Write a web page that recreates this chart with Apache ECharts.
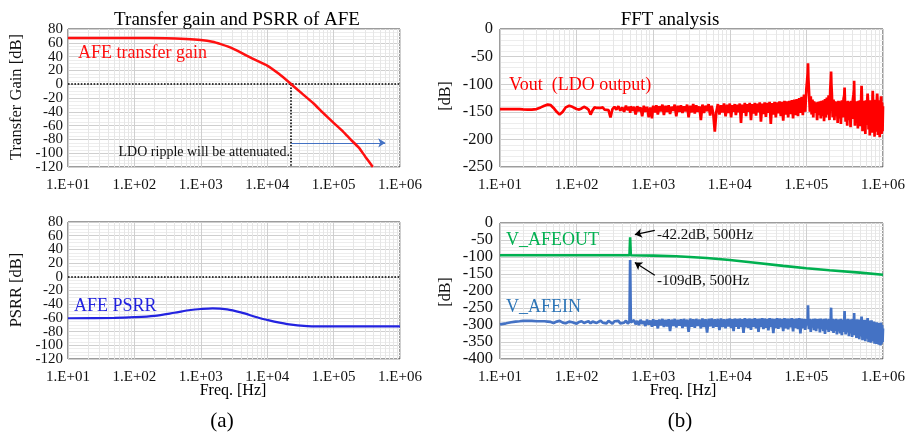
<!DOCTYPE html>
<html>
<head>
<meta charset="utf-8">
<script src="https://cdn.jsdelivr.net/npm/echarts@6/dist/echarts.min.js"></script>
<style>
  html, body { margin: 0; padding: 0; background: #fff; }
  #chart { width: 909px; height: 434px; }
</style>
</head>
<body>
<div id="chart"></div>
<script>
// (a) AFE transfer gain and PSRR, [Hz, dB]
var gainPts = [[10, 67], [100, 67], [300, 66.6], [600, 65.5], [1000, 64], [1500, 61.5], [2000, 58],
  [3000, 52], [5000, 41], [7000, 34], [10000, 27], [15000, 15], [23000, 0], [33000, -13], [50000, -28],
  [70000, -42], [100000, -56], [140000, -69], [180000, -80], [240000, -92], [300000, -105], [390000, -120]];
var psrrPts = [[10, -60.5], [50, -60], [100, -59], [200, -57], [400, -52.5], [700, -48.5], [1000, -47],
  [1500, -46], [2500, -47.5], [4000, -52], [7000, -59], [10000, -63], [20000, -69], [40000, -72],
  [100000, -72.5], [1000000, -72.5]];

// (b) FFT bins shared by Vout and V_AFEIN
var fftFreq = [
  10, 12, 14, 16, 18, 20, 23, 26, 30, 34,
  38, 42, 46, 50, 55, 60, 66, 72, 80, 88,
  100, 108, 116, 125, 134, 143, 152, 162, 172, 183,
  194, 206, 219, 232, 246, 261, 277, 294, 312, 331,
  351, 372, 394, 417, 441, 466, 490, 500, 510, 535,
  562, 590, 620, 651, 684, 718, 754, 792, 832, 874,
  918, 964, 1000, 1050, 1100, 1150, 1200, 1260, 1320, 1380,
  1450, 1520, 1590, 1660, 1740, 1820, 1910, 2000, 2100, 2200,
  2300, 2410, 2520, 2640, 2770, 2900, 3040, 3180, 3330, 3490,
  3650, 3820, 4000, 4190, 4390, 4600, 4820, 5050, 5290, 5540,
  5800, 6080, 6370, 6670, 6990, 7320, 7670, 8030, 8410, 8810,
  9230, 9660, 10000, 10400, 10800, 11200, 11600, 12000, 12500, 13000,
  13500, 14000, 14500, 15100, 15700, 16300, 16900, 17500, 18200, 18900,
  19600, 20400, 21200, 22000, 22800, 23700, 24600, 25500, 26500, 27500,
  28500, 29600, 30700, 31900, 33100, 34300, 35600, 37000, 38400, 39900,
  41400, 43000, 44600, 46300, 48000, 49800, 51700, 53700, 55700, 57800,
  60000, 62300, 64600, 67000, 69500, 72100, 74800, 77600, 80500, 83500,
  86600, 89800, 93100, 96500, 100000, 102000, 104000, 105000, 106000, 108000,
  111000, 114000, 117000, 120000, 123000, 126000, 130000, 134000, 138000, 142000,
  146000, 150000, 154000, 158000, 162000, 166000, 170000, 175000, 180000, 185000,
  190000, 195000, 200000, 205000, 208000, 210000, 212000, 215000, 220000, 226000,
  232000, 238000, 244000, 250000, 256000, 262000, 268000, 275000, 282000, 290000,
  298000, 306000, 312000, 315000, 318000, 325000, 333000, 341000, 350000, 359000,
  368000, 377000, 386000, 395000, 404000, 412000, 418000, 420000, 422000, 430000,
  440000, 450000, 460000, 470000, 480000, 490000, 500000, 510000, 520000, 525000,
  530000, 540000, 552000, 564000, 576000, 588000, 600000, 612000, 624000, 630000,
  636000, 648000, 660000, 672000, 684000, 696000, 708000, 720000, 730000, 735000,
  740000, 752000, 764000, 776000, 788000, 800000, 812000, 824000, 834000, 840000,
  846000, 858000, 870000, 882000, 894000, 906000, 918000, 930000, 940000, 945000,
  950000, 962000, 974000, 986000, 1000000
];
var voutDb = [
  -145, -145, -145, -145, -145, -145.5, -146, -146, -145, -142,
  -139, -137, -138, -143, -150, -155, -150, -142, -139, -141,
  -145, -146, -144, -141, -143, -146, -155, -147, -142, -143,
  -145, -143, -142, -146, -144, -147, -160, -145, -141, -146,
  -140, -148, -142, -150, -139, -147, -141, -152, -140, -148,
  -141, -155, -140, -149, -142, -158, -139, -150, -141, -160,
  -142, -162, -139, -151, -138, -155, -140, -149, -137, -156,
  -139, -150, -138, -154, -141, -148, -137, -158, -139, -150,
  -138, -152, -140, -149, -137, -160, -139, -151, -136, -153,
  -138, -150, -140, -165, -137, -152, -139, -149, -136, -157,
  -139, -153, -186, -150, -136, -155, -138, -151, -135, -158,
  -137, -152, -135, -160, -138, -150, -136, -156, -137, -151,
  -135, -170, -137, -152, -134, -158, -136, -150, -134, -165,
  -136, -153, -134, -157, -135, -151, -133, -168, -135, -154,
  -133, -159, -134, -152, -132, -172, -134, -155, -132, -160,
  -133, -153, -131, -158, -132, -166, -130, -155, -131, -160,
  -130, -154, -129, -162, -128, -156, -127, -158, -125, -152,
  -123, -156, -119, -150, -108, -95, -80, -62, -88, -112,
  -150, -122, -155, -128, -160, -131, -152, -133, -165, -132,
  -156, -131, -162, -130, -158, -129, -167, -127, -160, -124,
  -155, -120, -165, -108, -92, -77, -100, -118, -160, -128,
  -165, -131, -158, -132, -170, -130, -162, -131, -172, -129,
  -160, -126, -120, -106, -125, -168, -131, -175, -130, -165,
  -132, -178, -130, -163, -128, -118, -110, -94, -115, -175,
  -132, -170, -131, -180, -130, -172, -129, -176, -120, -103,
  -118, -185, -131, -168, -130, -190, -129, -174, -125, -117,
  -126, -182, -131, -193, -129, -175, -130, -188, -122, -112,
  -125, -178, -130, -195, -128, -180, -131, -186, -124, -117,
  -127, -192, -130, -183, -129, -196, -131, -185, -127, -122,
  -130, -190, -133, -185, -140
];
var afeinDb = [
  -298, -295, -292, -290, -289, -288, -288, -288, -289, -289,
  -289, -290, -291, -294, -290, -288, -293, -295, -290, -292,
  -296, -291, -289, -294, -291, -289, -295, -290, -288, -294,
  -290, -287, -293, -289, -295, -288, -291, -296, -289, -292,
  -288, -295, -290, -293, -287, -296, -290, -109, -292, -296,
  -286, -298, -288, -300, -285, -296, -289, -303, -284, -299,
  -287, -305, -283, -302, -286, -310, -284, -301, -282, -306,
  -285, -304, -283, -318, -284, -303, -282, -307, -285, -302,
  -283, -309, -282, -304, -284, -320, -281, -305, -283, -308,
  -282, -303, -284, -310, -281, -306, -283, -322, -282, -304,
  -281, -308, -283, -305, -282, -315, -281, -306, -283, -310,
  -282, -304, -281, -309, -283, -318, -281, -305, -282, -311,
  -281, -306, -283, -323, -280, -307, -282, -309, -281, -314,
  -282, -305, -280, -310, -282, -320, -281, -306, -280, -312,
  -281, -308, -282, -316, -280, -306, -281, -324, -282, -309,
  -280, -311, -281, -307, -282, -318, -280, -310, -281, -313,
  -281, -307, -280, -319, -282, -309, -281, -312, -280, -325,
  -281, -310, -282, -314, -283, -300, -285, -242, -295, -312,
  -282, -320, -283, -308, -282, -315, -281, -318, -283, -310,
  -282, -322, -281, -312, -283, -318, -282, -326, -281, -314,
  -283, -320, -282, -316, -285, -249, -290, -318, -282, -323,
  -283, -317, -282, -328, -284, -319, -283, -325, -282, -330,
  -284, -320, -290, -259, -292, -328, -283, -322, -282, -333,
  -284, -325, -283, -335, -282, -300, -288, -265, -295, -330,
  -284, -338, -283, -330, -285, -342, -284, -334, -288, -275,
  -292, -345, -285, -336, -286, -348, -285, -340, -290, -280,
  -293, -350, -287, -343, -288, -352, -286, -346, -290, -287,
  -295, -348, -290, -355, -292, -347, -293, -356, -292, -290,
  -297, -352, -294, -358, -296, -350, -295, -360, -293, -292,
  -298, -355, -300, -350, -310
];
var afeoutPts = [[10, -95], [100, -95], [300, -95], [490, -95], [500, -42.2], [510, -95], [1000, -96],
  [2000, -98], [3000, -100], [5000, -103], [10000, -109], [20000, -116], [50000, -126],
  [100000, -133], [200000, -139], [500000, -146], [1000000, -152]];

var minorFreqs = [20, 30, 40, 50, 60, 70, 80, 90, 200, 300, 400, 500, 600, 700, 800, 900,
  2000, 3000, 4000, 5000, 6000, 7000, 8000, 9000, 20000, 30000, 40000, 50000, 60000, 70000, 80000, 90000,
  200000, 300000, 400000, 500000, 600000, 700000, 800000, 900000];

var FONT = '"Liberation Serif", "Times New Roman", serif';
var chart = echarts.init(document.getElementById('chart'));

var grids = [
  { left: 68, top: 29, width: 332, height: 138 },
  { left: 500, top: 29, width: 383, height: 138 },
  { left: 68, top: 222, width: 332, height: 137 },
  { left: 500, top: 223, width: 383, height: 136 }
];
grids.forEach(function (g) {
  g.show = true; g.borderColor = '#3a3a3a'; g.borderWidth = 1; g.backgroundColor = '#fff';
});

function xAx(i) {
  return {
    type: 'log', logBase: 10, gridIndex: i, min: 10, max: 1000000,
    axisLine: { show: false }, axisTick: { show: false },
    axisLabel: {
      margin: 11, fontFamily: FONT, fontSize: 15, color: '#111',
      formatter: function (v) { return '1.E+' + String(Math.round(Math.log10(v))).padStart(2, '0'); }
    },
    splitLine: { show: true, lineStyle: { color: '#cfcfcf', width: 1 } }
  };
}
function yAx(i, min, max, step, fs, minorN, ends) {
  return {
    type: 'value', gridIndex: i, min: min, max: max, interval: step,
    axisLine: { show: false }, axisTick: { show: false },
    axisLabel: {
      margin: i % 2 ? 7 : 5, fontFamily: FONT, fontSize: fs, color: '#111',
      showMinLabel: ends, showMaxLabel: ends
    },
    splitLine: { show: true, lineStyle: { color: '#cfcfcf', width: 1 } },
    minorTick: { show: false, splitNumber: minorN },
    minorSplitLine: { show: true, lineStyle: { color: '#ededed', width: 1 } }
  };
}
// labels for only the two ends of the crowded left axes
function yEnds(i, min, max, fs) {
  return {
    type: 'value', gridIndex: i, min: min, max: max, interval: max - min, position: 'left',
    axisLine: { show: false }, axisTick: { show: false },
    axisLabel: { margin: 5, fontFamily: FONT, fontSize: fs, color: '#111' },
    splitLine: { show: false }
  };
}

function minorGrid(i) {
  return {
    type: 'line', xAxisIndex: i, yAxisIndex: i, data: [], z: 1, silent: true,
    markLine: {
      silent: true, symbol: 'none', animation: false, label: { show: false },
      lineStyle: { color: '#e6e6e6', type: 'solid', width: 1 },
      data: minorFreqs.map(function (f) { return { xAxis: f }; })
    }
  };
}
function arrows(i, lines, color, width) {
  return {
    type: 'line', xAxisIndex: i, yAxisIndex: i, data: [], zlevel: 1, z: 5, silent: true,
    markLine: {
      silent: true, symbol: ['none', 'arrow'], symbolSize: 7, animation: false, label: { show: false },
      lineStyle: { color: color, type: 'solid', width: width },
      data: lines.map(function (l) { return [{ coord: l[0] }, { coord: l[1] }]; })
    }
  };
}
var dotted = { color: '#000', type: 'dotted', width: 1.6 };

function txt(s, x, y, size, color, align, rot) {
  return {
    type: 'text', x: x, y: y, rotation: rot || 0, silent: true, z: 10,
    style: { text: s, fill: color || '#000', font: size + 'px ' + FONT, textAlign: align || 'center', textVerticalAlign: 'middle' }
  };
}

var option = {
  animation: false,
  backgroundColor: '#fff',
  grid: grids,
  xAxis: [xAx(0), xAx(1), xAx(2), xAx(3)],
  yAxis: [
    yAx(0, -120, 80, 20, 15, 4, false),
    yAx(1, -250, 0, 50, 16.5, 5, true),
    yAx(2, -120, 80, 20, 15, 4, false),
    yAx(3, -400, 0, 50, 16.5, 5, true),
    yEnds(0, -120, 80, 15),
    yEnds(2, -120, 80, 15)
  ],
  series: [
    minorGrid(0), minorGrid(1), minorGrid(2), minorGrid(3),
    {
      name: 'AFE transfer gain', type: 'line', xAxisIndex: 0, yAxisIndex: 0, data: gainPts,
      smooth: 0.2, showSymbol: false, zlevel: 1, z: 3, lineStyle: { color: '#FF1010', width: 2.5 },
      markLine: {
        silent: true, symbol: 'none', animation: false, label: { show: false }, lineStyle: dotted,
        data: [{ yAxis: 0 }, [{ coord: [23000, 0] }, { coord: [23000, -120] }]]
      }
    },
    arrows(0, [[[23000, -85], [600000, -85]]], '#4472C4', 1),
    {
      name: 'AFE PSRR', type: 'line', xAxisIndex: 2, yAxisIndex: 2, data: psrrPts,
      smooth: 0.3, showSymbol: false, zlevel: 1, z: 3, lineStyle: { color: '#2323E0', width: 2.2 },
      markLine: {
        silent: true, symbol: 'none', animation: false, label: { show: false }, lineStyle: dotted,
        data: [{ yAxis: 0 }]
      }
    },
    {
      name: 'Vout', type: 'line', xAxisIndex: 1, yAxisIndex: 1, showSymbol: false, zlevel: 1, z: 3,
      data: fftFreq.map(function (f, i) { return [f, voutDb[i]]; }),
      lineStyle: { color: '#FF0000', width: 2.7 }
    },
    {
      name: 'V_AFEIN', type: 'line', xAxisIndex: 3, yAxisIndex: 3, showSymbol: false, zlevel: 1, z: 3,
      data: fftFreq.map(function (f, i) { return [f, afeinDb[i]]; }),
      lineStyle: { color: '#4472C4', width: 2.7 }
    },
    {
      name: 'V_AFEOUT', type: 'line', xAxisIndex: 3, yAxisIndex: 3, showSymbol: false, zlevel: 1, z: 4,
      data: afeoutPts, lineStyle: { color: '#00B050', width: 2.6 }
    },
    arrows(3, [[[1050, -21.5], [576, -34]], [[1050, -154], [576, -116.5]]], '#000', 1.2)
  ],
  graphic: [
    txt('Transfer gain and PSRR of AFE', 237, 20, 19),
    txt('FFT analysis', 670, 20, 19),
    txt('Transfer Gain [dB]', 17, 97, 16.5, '#111', 'center', Math.PI / 2),
    txt('PSRR [dB]', 17, 290, 16.5, '#111', 'center', Math.PI / 2),
    txt('[dB]', 446, 96, 16, '#111', 'center', Math.PI / 2),
    txt('[dB]', 446, 292, 16, '#111', 'center', Math.PI / 2),
    txt('AFE transfer gain', 78, 53, 18, '#FF1010', 'left'),
    txt('LDO ripple will be attenuated.', 290, 152, 14, '#111', 'right'),
    txt('AFE PSRR', 74, 306, 18, '#2323E0', 'left'),
    txt('Vout  (LDO output)', 509, 85, 18, '#FF0000', 'left'),
    txt('V_AFEOUT', 506, 240, 18, '#00B050', 'left'),
    txt('V_AFEIN', 506, 307, 18, '#2E75B6', 'left'),
    txt('-42.2dB, 500Hz', 657, 235, 15, '#111', 'left'),
    txt('-109dB, 500Hz', 657, 281, 15, '#111', 'left'),
    txt('Freq. [Hz]', 233, 391, 16),
    txt('Freq. [Hz]', 683, 391, 16),
    txt('(a)', 222, 421, 21),
    txt('(b)', 680, 421, 21)
  ]
};
chart.setOption(option);
</script>
</body>
</html>
